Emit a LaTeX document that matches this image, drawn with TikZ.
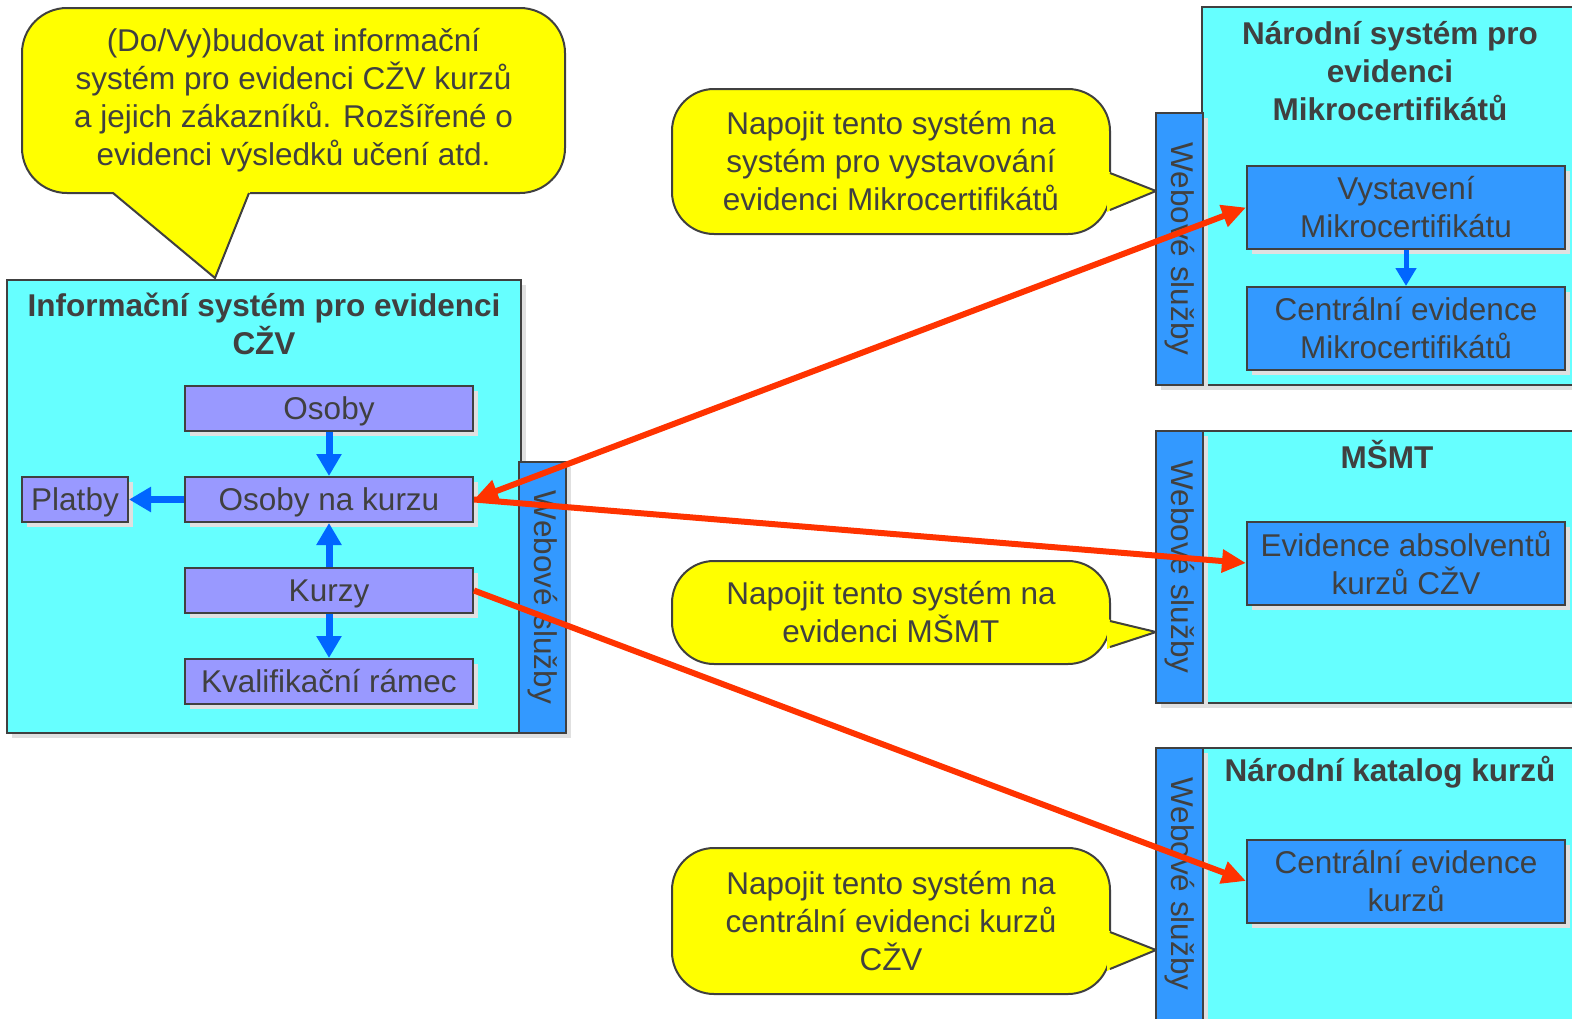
\documentclass[tikz,border=0pt]{standalone}
\usepackage{fontspec}
\setmainfont{Liberation Sans}
\usetikzlibrary{arrows.meta,shadows,positioning}

\definecolor{txtgray}{RGB}{64,64,64}
\definecolor{azure}{RGB}{102,255,255}
\definecolor{wsblue}{RGB}{51,153,255}
\definecolor{lila}{RGB}{153,153,255}
\definecolor{callyellow}{RGB}{255,255,0}
\definecolor{linkred}{RGB}{255,51,0}
\definecolor{flowblue}{RGB}{0,102,255}

\newcommand{\diagfont}{\fontsize{31.5}{38}\selectfont}

\begin{document}
\begin{tikzpicture}[x=1pt,y=-1pt,node distance=91pt,
  box/.style={draw=txtgray,line width=2pt,text=txtgray,font=\diagfont,inner sep=0pt,
    drop shadow={shadow xshift=5pt,shadow yshift=-5pt,fill=black!12,opacity=1}},
  system/.style={box,fill=azure},
  ws bar/.style={box,fill=wsblue,minimum width=47pt},
  part node/.style={box,fill=lila,minimum width=288pt,minimum height=45pt,
    text height=22.6pt,text depth=0pt},
  cert node/.style={box,fill=wsblue,minimum width=318pt,minimum height=83pt,align=center},
  ws label/.style={rotate=-90,text=txtgray,font=\diagfont},
  title/.style={text=txtgray,font=\diagfont\bfseries,align=center},
  callout/.style={draw=txtgray,fill=callyellow,line width=2pt,rounded corners=42pt,
    text=txtgray,font=\diagfont,align=center,minimum width=438pt},
  pointer/.style={draw=txtgray,line width=2pt},
  flow/.style={draw=flowblue,line width=7pt,>={Triangle[length=22pt,width=24pt]},->},
  link/.style={draw=linkred,line width=6pt,>={Triangle[length=24pt,width=22pt]},->}]

  \useasboundingbox (0,0) rectangle (1572,1018);
  \clip (0,0) rectangle (1572,1018);

  % speech bubbles
  \node[callout,rounded corners=45pt,minimum width=543pt,minimum height=185pt] (goal) at (293.5,100.5)
    {(Do/Vy)budovat informační\\systém pro evidenci CŽV kurzů\\a jejich zákazníků. Rozšířené o\\evidenci výsledků učení atd.};
  \node[callout,minimum height=145pt] (ask1) at (891,161.5)
    {Napojit tento systém na\\systém pro vystavování\\evidenci Mikrocertifikátů};
  \node[callout,minimum height=103pt] (ask2) at (891,612.5)
    {Napojit tento systém na\\evidenci MŠMT};
  \node[callout,minimum height=146pt] (ask3) at (891,921)
    {Napojit tento systém na\\centrální evidenci kurzů\\CŽV};

  \coordinate (goaltip) at (215,278);
  \coordinate (tip1) at (1156,191);
  \coordinate (tip2) at (1156,632);
  \coordinate (tip3) at (1156,950);
  \fill[callyellow] (111,190) -- (goaltip) -- (251,190) -- cycle;
  \draw[pointer] (113,193) -- (goaltip) -- (249,193);
  \fill[callyellow] (1107,171) -- (tip1) -- (1107,212) -- cycle;
  \draw[pointer] (1110,173) -- (tip1) -- (1110,210);
  \fill[callyellow] (1107,619) -- (tip2) -- (1107,649) -- cycle;
  \draw[pointer] (1110,621) -- (tip2) -- (1110,647);
  \fill[callyellow] (1107,930) -- (tip3) -- (1107,971) -- cycle;
  \draw[pointer] (1110,932) -- (tip3) -- (1110,969);

  % informacni system CZV
  \node[system,minimum width=514pt,minimum height=453pt] (isbox) at (264,506.5) {};
  \node[title] (istitle) at (264,324) {Informační systém pro evidenci\\CŽV};
  \node[ws bar,minimum height=271pt] (lbar) at (542.5,597.5) {};
  \node[ws label] (lbartext) at (lbar) {Webové služby};

  \node[part node] (osoby) at (329,408.5) {Osoby};
  \node[part node] (onk) [below of=osoby] {Osoby na kurzu};
  \node[part node] (kurzy) [below of=onk] {Kurzy};
  \node[part node] (kval) [below of=kurzy] {Kvalifikační rámec};
  \node[part node,minimum width=106pt,node distance=254pt] (platby) [left of=onk] {Platby};

  % narodni system mikrocertifikatu
  \node[system,minimum width=383pt,minimum height=378pt] (nsm) at (1393.5,196) {};
  \node[title] (nsmtitle) at (1390,71) {Národní systém pro\\evidenci\\Mikrocertifikátů};
  \node[ws bar,minimum height=272pt] (rbar1) at (1179.5,249) {};
  \node[ws label] (rbar1text) at (rbar1) {Webové služby};
  \node[cert node] (vyst) at (1406,207.5) {Vystavení\\Mikrocertifikátu};
  \node[cert node,node distance=121pt] (cemk) [below of=vyst] {Centrální evidence\\Mikrocertifikátů};

  % MSMT
  \node[system,minimum width=383pt,minimum height=272pt] (msmt) at (1393.5,567) {};
  \node[title] (msmttitle) at (1387,455) {MŠMT};
  \node[ws bar,minimum height=272pt] (rbar2) at (1179.5,567) {};
  \node[ws label] (rbar2text) at (rbar2) {Webové služby};
  \node[cert node] (evid) at (1406,563) {Evidence absolventů\\kurzů CŽV};

  % narodni katalog
  \node[system,minimum width=383pt,minimum height=282pt] (nkk) at (1393.5,889) {};
  \node[title] (nkktitle) at (1390,772) {Národní katalog kurzů};
  \node[ws bar,minimum height=272pt] (rbar3) at (1179.5,884) {};
  \node[ws label] (rbar3text) at (rbar3) {Webové služby};
  \node[cert node] (cek) at (1406,881) {Centrální evidence\\kurzů};

  \path (osoby) edge[flow] (onk)
    (kurzy) edge[flow] (onk)
            edge[flow] (kval)
    (onk) edge[flow] (platby);
  \path (vyst) edge[flow,line width=5pt,>={Triangle[length=18pt,width=20pt]}] (cemk);

  \path (onk.east) edge[link,<->] (vyst.west)
                   edge[link] (evid.west)
    (kurzy.east) edge[link] (cek.west);
\end{tikzpicture}
\end{document}
